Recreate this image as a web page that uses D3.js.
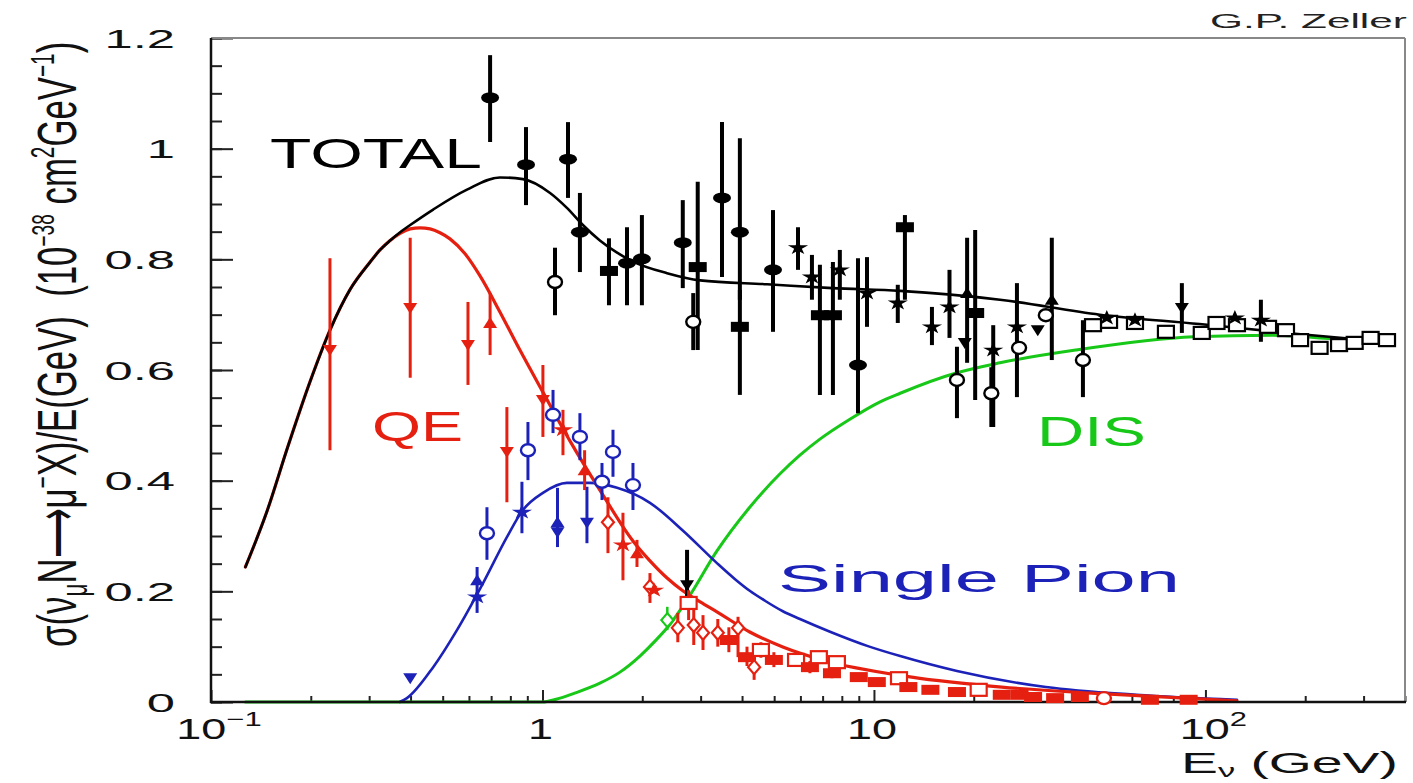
<!DOCTYPE html>
<html>
<head>
<meta charset="utf-8">
<script src="https://cdn.jsdelivr.net/npm/d3@7"></script>
<style>
  html, body { margin: 0; padding: 0; background: #fff; }
  svg { display: block; font-family: "Liberation Sans", Arial, Helvetica, sans-serif; }
</style>
</head>
<body>
<svg id="chart" width="1413" height="783"></svg>
<script>
// ---- model curves: [E (GeV), sigma/E (1e-38 cm^2/GeV)] ----
const totalCurve = [
  [0.127,0.244],[0.148,0.347],[0.170,0.459],[0.199,0.579],[0.2285,0.672],[0.2625,0.745],
  [0.302,0.795],[0.3235,0.817],[0.347,0.834],[0.372,0.849],[0.399,0.862],[0.468,0.890],
  [0.592,0.926],[0.744,0.948],[0.873,0.945],[1.054,0.920],[1.185,0.893],[1.324,0.862],
  [1.49,0.834],[1.679,0.812],[1.875,0.796],[2.376,0.775],[2.99,0.762],[4.76,0.755],
  [7.5,0.748],[12.0,0.743],[24,0.727],[48,0.700],[96,0.683],[190,0.665],[348,0.651]
];
const qeCurve = [
  [0.127,0.244],[0.148,0.347],[0.170,0.459],[0.199,0.579],[0.2285,0.672],[0.2625,0.745],
  [0.302,0.795],[0.3235,0.817],[0.347,0.834],[0.372,0.847],[0.399,0.855],[0.427,0.857],
  [0.458,0.855],[0.4907,0.848],[0.526,0.837],[0.584,0.810],[0.648,0.770],[0.744,0.705],
  [0.855,0.636],[1.003,0.560],[1.21,0.472],[1.49,0.383],[1.875,0.291],[2.11,0.255],
  [2.376,0.224],[2.65,0.201],[2.99,0.181],[3.36,0.163],[4.22,0.1265],[5.31,0.0994],
  [6.98,0.076],[13.0,0.045],[24.3,0.027],[45.2,0.016],[124.5,0.002]
];
const pionCurve = [
  [0.371,0],[0.390,0.007],[0.468,0.063],[0.552,0.130],[0.662,0.215],[0.781,0.298],
  [0.873,0.347],[1.003,0.378],[1.185,0.396],[1.39,0.396],[1.679,0.387],[2.11,0.36],
  [2.65,0.31],[3.36,0.251],[3.81,0.222],[4.22,0.201],[4.69,0.183],[5.31,0.164],
  [5.98,0.150],[7.37,0.127],[9.59,0.101],[12.0,0.083],[17.8,0.056],[33.0,0.027],
  [61.8,0.013],[124.5,0.004]
];
const disCurve = [
  [0.127,0],[1.0,0],[1.1,0.005],[1.25,0.016],[1.49,0.034],[1.713,0.054],[1.968,0.083],
  [2.185,0.110],[2.43,0.141],[2.766,0.190],[3.36,0.273],[4.22,0.352],[5.20,0.412],
  [5.98,0.446],[6.87,0.475],[8.46,0.511],[10.4,0.542],[12.0,0.558],[17.8,0.595],
  [24.0,0.613],[40.6,0.636],[92.3,0.66],[159,0.663],[315,0.651],[348,0.650]
];

// ---- measurements: [E, value, errLow, errHigh, marker] ----
const totalData = [
  [0.695,1.092,1.012,1.169,"fc"],[0.892,0.971,0.898,1.039,"fc"],[1.194,0.981,0.911,1.048,"fc"],
  [1.091,0.759,0.699,0.821,"oc"],[1.297,0.849,0.777,0.920,"fc"],[1.587,0.779,0.717,0.838,"fs"],
  [1.799,0.793,0.717,0.858,"fc"],[1.995,0.801,0.717,0.880,"fc"],[2.65,0.830,0.748,0.907,"fc"],
  [2.94,0.786,0.636,0.940,"fs"],[2.85,0.687,0.636,0.739,"oc"],[2.73,0.211,0.184,0.275,"td"],
  [3.48,0.911,0.768,1.048,"fc"],[3.94,0.849,0.727,1.019,"fc"],[3.94,0.678,0.555,0.745,"fs"],
  [4.96,0.781,0.669,0.889,"fc"],[5.90,0.821,0.781,0.858,"st"],[6.50,0.768,0.727,0.808,"st"],
  [6.87,0.699,0.555,0.790,"fs"],[7.52,0.699,0.555,0.795,"fs"],[7.89,0.781,0.727,0.817,"st"],
  [8.95,0.609,0.522,0.802,"fc"],[9.53,0.739,0.678,0.804,"st"],[11.8,0.721,0.685,0.754,"st"],
  [12.4,0.858,0.727,0.880,"fs"],[14.96,0.678,0.645,0.714,"st"],[16.9,0.714,0.658,0.781,"st"],
  [17.8,0.582,0.513,0.642,"oc"],[19.1,0.739,0.613,0.839,"tu"],[20.2,0.703,0.546,0.853,"fs"],
  [18.8,0.649,0.649,0.649,"td"],[22.9,0.636,0.497,0.681,"st"],[22.6,0.558,0.497,0.605,"oc"],
  [27.0,0.678,0.551,0.757,"st"],[27.4,0.640,0.640,0.640,"oc"],[31.2,0.672,0.672,0.672,"td"],
  [33.0,0.699,0.699,0.699,"oc"],[34.4,0.727,0.618,0.839,"tu"],[42.7,0.618,0.551,0.690,"oc"],
  [45.8,0.681,0.681,0.681,"os"],[51.2,0.687,0.687,0.687,"os"],[61.3,0.685,0.685,0.685,"os"],
  [76.0,0.669,0.669,0.669,"os"],[97.5,0.667,0.667,0.667,"os"],[108,0.685,0.685,0.685,"os"],
  [124.5,0.681,0.681,0.681,"os"],[154.5,0.678,0.678,0.678,"os"],[175,0.672,0.672,0.672,"os"],
  [193,0.654,0.654,0.654,"os"],[221,0.640,0.640,0.640,"os"],[253,0.645,0.645,0.645,"os"],
  [282,0.649,0.649,0.649,"os"],[315,0.658,0.658,0.658,"os"],[353,0.654,0.654,0.654,"os"],
  [50.4,0.694,0.694,0.694,"st"],[61.3,0.690,0.690,0.690,"st"],[84.9,0.712,0.667,0.757,"td"],
  [122.7,0.694,0.694,0.694,"st"],[147,0.690,0.651,0.727,"st"]
];
const qeData = [
  [0.2285,0.636,0.455,0.802,"td"],[0.399,0.712,0.586,0.839,"td"],[0.596,0.645,0.573,0.723,"td"],
  [0.695,0.685,0.627,0.739,"tu"],[0.781,0.452,0.361,0.533,"td"],[1.003,0.546,0.479,0.609,"td"],
  [1.153,0.492,0.446,0.528,"st"],[1.34,0.419,0.383,0.455,"tu"],[1.576,0.325,0.269,0.370,"od"],
  [1.749,0.284,0.220,0.342,"st"],[1.928,0.269,0.244,0.293,"tu"],[2.11,0.208,0.179,0.233,"od"],
  [2.17,0.202,0.202,0.202,"st"],[2.56,0.134,0.108,0.161,"od"],[2.76,0.179,0.148,0.202,"os"],
  [2.86,0.139,0.103,0.175,"od"],[3.05,0.125,0.094,0.157,"od"],[3.38,0.125,0.100,0.150,"od"],
  [3.65,0.112,0.090,0.135,"fs"],[3.89,0.134,0.081,0.154,"od"],[4.14,0.081,0.065,0.100,"fs"],
  [4.35,0.063,0.040,0.076,"od"],[4.56,0.094,0.080,0.108,"os"],[4.99,0.076,0.063,0.090,"fs"],
  [5.82,0.076,0.065,0.087,"os"],[6.41,0.063,0.052,0.074,"fs"],[6.82,0.081,0.072,0.090,"os"],
  [7.47,0.052,0.043,0.061,"fs"],[7.73,0.072,0.072,0.072,"os"],[9.0,0.045,0.038,0.052,"fs"],
  [10.2,0.036,0.030,0.042,"fs"],[11.9,0.043,0.043,0.043,"os"],[12.7,0.027,0.020,0.034,"fs"],
  [14.8,0.022,0.022,0.022,"fs"],[17.8,0.018,0.018,0.018,"fs"],[20.7,0.022,0.022,0.022,"os"],
  [24.3,0.013,0.013,0.013,"fs"],[27.5,0.013,0.013,0.013,"fs"],[30.2,0.009,0.009,0.009,"fs"],
  [35.2,0.007,0.007,0.007,"fs"],[41.8,0.009,0.009,0.009,"fs"],[49.4,0.007,0.007,0.007,"oc"],
  [68,0.004,0.004,0.004,"fs"],[89,0.004,0.004,0.004,"fs"]
];
const pionData = [
  [0.399,0.043,0.043,0.043,"td"],[0.635,0.220,0.161,0.244,"tu"],[0.635,0.190,0.190,0.190,"st"],
  [0.680,0.305,0.257,0.352,"oc"],[0.867,0.343,0.305,0.398,"st"],[0.904,0.455,0.401,0.506,"oc"],
  [1.076,0.519,0.486,0.564,"oc"],[1.11,0.325,0.280,0.387,"tu"],[1.11,0.307,0.307,0.307,"td"],
  [1.297,0.479,0.437,0.522,"oc"],[1.362,0.324,0.287,0.389,"td"],[1.512,0.398,0.365,0.432,"oc"],
  [1.632,0.452,0.407,0.492,"oc"],[1.875,0.392,0.347,0.432,"oc"]
];
const disData = [
  [2.38,0.148,0.130,0.172,"od"]
];

// ---- axis ticks and labels ----
const yMajorTicks = [0, 0.2, 0.4, 0.6, 0.8, 1.0, 1.2];
const yTickLabels = ["0", "0.2", "0.4", "0.6", "0.8", "1", "1.2"];
const yMinorTicks = d3.range(0, 1.2001, 0.05);
const xMajorTicks = [0.1, 1, 10, 100];
const xTickBase = ["10", "1", "10", "10"];
const xTickExp = ["\u22121", "", "", "2"];
const xMinorTicks = [0.2,0.3,0.4,0.5,0.6,0.7,0.8,0.9,2,3,4,5,6,7,8,9,20,30,40,50,60,70,80,90,200,300,400];

const COLORS = { total: "#000000", qe: "#e62010", pion: "#1c22b8", dis: "#18c818" };

const svg = d3.select("#chart");
const x = d3.scaleLog().domain([0.1, 400]).range([211, 1405]);
const y = d3.scaleLinear().domain([0, 1.2]).range([702, 38]);

// ---- frame (top and right edges) ----
const frame = svg.append("g");
frame.append("line").attr("x1", 211).attr("x2", 1405).attr("y1", 38).attr("y2", 38)
  .attr("stroke", "#888").attr("stroke-width", 2);
frame.append("line").attr("x1", 1405).attr("x2", 1405).attr("y1", 38).attr("y2", 702)
  .attr("stroke", "#888").attr("stroke-width", 2);

// ---- ticks (drawn inward) ----
function tickGroup(axis, transform) {
  const g = svg.append("g").attr("transform", transform).call(axis);
  g.select(".domain").remove();
  g.selectAll(".tick line").attr("stroke", "#222").attr("stroke-width", 2);
  g.selectAll(".tick text").remove();
  return g;
}
tickGroup(d3.axisRight(y).tickValues(yMinorTicks).tickSize(11).tickFormat(""), "translate(211,0)");
tickGroup(d3.axisRight(y).tickValues(yMajorTicks).tickSize(22).tickFormat(""), "translate(211,0)");
tickGroup(d3.axisTop(x).tickValues(xMinorTicks).tickSize(6).tickFormat(""), "translate(0,702)");
tickGroup(d3.axisTop(x).tickValues(xMajorTicks).tickSize(12).tickFormat(""), "translate(0,702)");

// ---- curves ----
const line = d3.line().x(d => x(d[0])).y(d => y(d[1])).curve(d3.curveMonotoneX);
const curves = svg.append("g").attr("fill", "none").attr("stroke-linejoin", "round").attr("stroke-linecap", "round");
curves.append("path").datum(disCurve).attr("d", line).attr("stroke", COLORS.dis).attr("stroke-width", 3);
curves.append("path").datum(pionCurve).attr("d", line).attr("stroke", COLORS.pion).attr("stroke-width", 2.6);
curves.append("path").datum(qeCurve).attr("d", line).attr("stroke", COLORS.qe).attr("stroke-width", 3.2);
curves.append("path").datum(totalCurve).attr("d", line).attr("stroke", COLORS.total).attr("stroke-width", 2.6);

// ---- left and bottom axis lines ----
frame.raise();
svg.append("line").attr("x1", 211).attr("x2", 211).attr("y1", 38).attr("y2", 703)
  .attr("stroke", "#111").attr("stroke-width", 2.5);
svg.append("line").attr("x1", 210).attr("x2", 1406).attr("y1", 702).attr("y2", 702)
  .attr("stroke", "#111").attr("stroke-width", 2.5);

// ---- markers ----
function drawMarker(g, kind, color) {
  switch (kind) {
    case "fc":
      g.append("ellipse").attr("rx", 9).attr("ry", 5.5).attr("fill", color); break;
    case "oc":
      g.append("ellipse").attr("rx", 7).attr("ry", 6).attr("fill", "#fff").attr("stroke", color).attr("stroke-width", 2.4); break;
    case "fs":
      g.append("rect").attr("x", -9).attr("y", -5).attr("width", 18).attr("height", 10).attr("fill", color); break;
    case "os":
      g.append("rect").attr("x", -8).attr("y", -6).attr("width", 16).attr("height", 12).attr("fill", "#fff").attr("stroke", color).attr("stroke-width", 2.2); break;
    case "st":
      g.append("path").attr("d", d3.symbol(d3.symbolStar, 70)()).attr("transform", "scale(1.35,1)").attr("fill", color); break;
    case "td":
      g.append("path").attr("d", "M-7,-5L7,-5L0,6Z").attr("fill", color); break;
    case "tu":
      g.append("path").attr("d", "M-7,5L7,5L0,-6Z").attr("fill", color); break;
    case "od":
      g.append("path").attr("d", "M-6,0L0,-7L6,0L0,7Z").attr("fill", "#fff").attr("stroke", color).attr("stroke-width", 2.2); break;
  }
}
function drawSeries(data, color, barWidth) {
  const g = svg.append("g");
  g.selectAll("line.err").data(data.filter(d => d[3] > d[2])).join("line")
    .attr("class", "err")
    .attr("x1", d => x(d[0])).attr("x2", d => x(d[0]))
    .attr("y1", d => y(d[2])).attr("y2", d => y(d[3]))
    .attr("stroke", color).attr("stroke-width", barWidth);
  data.forEach(d => {
    const m = g.append("g").attr("transform", `translate(${x(d[0])},${y(d[1])})`);
    drawMarker(m, d[4], color);
  });
}
drawSeries(totalData, COLORS.total, 4);
drawSeries(pionData, COLORS.pion, 3);
drawSeries(qeData, COLORS.qe, 3);
drawSeries(disData, COLORS.dis, 2.5);

// ---- text helpers ----
function fitH(sel, x0, x1, baseline) {
  const w = sel.node().getComputedTextLength();
  sel.attr("text-anchor", "start").attr("transform", `translate(${x0},${baseline}) scale(${(x1 - x0) / w},1)`);
}

// y tick labels
yMajorTicks.forEach((v, i) => {
  svg.append("text").text(yTickLabels[i])
    .attr("text-anchor", "end").attr("font-size", 26).attr("fill", "#111")
    .attr("transform", `translate(175,${y(v) + 9.5}) scale(1.95,1)`);
});

// x tick labels
xMajorTicks.forEach((v, i) => {
  const t = svg.append("text").attr("font-size", 29).attr("fill", "#111").attr("text-anchor", "middle");
  t.append("tspan").text(xTickBase[i]);
  if (xTickExp[i]) t.append("tspan").attr("font-size", 20).attr("dy", -13).text(xTickExp[i]);
  const shift = xTickExp[i] ? 8 : -2;
  t.attr("transform", `translate(${x(v) + shift},739) scale(1.55,1)`);
});

// axis titles
const xt = svg.append("text").attr("font-size", 29).attr("fill", "#111");
xt.append("tspan").text("E");
xt.append("tspan").attr("font-size", 18).attr("dy", 4).text("\u03bd");
xt.append("tspan").attr("dy", -4).text(" (GeV)");
fitH(xt, 1181, 1398, 773);

const yt = svg.append("text").attr("font-size", 40).attr("fill", "#111");
yt.append("tspan").text("\u03c3(\u03bd");
yt.append("tspan").attr("font-size", 26).attr("dy", 8).text("\u03bc");
yt.append("tspan").attr("dy", -8).text("N\u27f6\u03bc");
yt.append("tspan").attr("font-size", 24).attr("dy", -16).text("\u2212");
yt.append("tspan").attr("dy", 16).text("X)/E(GeV)\u00a0\u00a0(10");
yt.append("tspan").attr("font-size", 22).attr("dy", -16).text("\u221238");
yt.append("tspan").attr("dy", 16).text(" cm");
yt.append("tspan").attr("font-size", 24).attr("dy", -16).text("2");
yt.append("tspan").attr("dy", 16).text("GeV");
yt.append("tspan").attr("font-size", 24).attr("dy", -16).text("\u22121");
yt.append("tspan").attr("dy", 16).text(")");
{
  const w = yt.node().getComputedTextLength();
  yt.attr("transform", `translate(76,647) scale(1.4,1) rotate(-90) scale(${605 / w},1)`);
}

// in-plot labels
const author = svg.append("text").attr("font-size", 21).attr("fill", "#222").text("G.P. Zeller");
fitH(author, 1210, 1407, 28);
const tTotal = svg.append("text").attr("font-size", 42).attr("fill", COLORS.total).text("TOTAL");
fitH(tTotal, 270, 482, 168);
const tQE = svg.append("text").attr("font-size", 42).attr("fill", COLORS.qe).text("QE");
fitH(tQE, 372, 463, 441);
const tDIS = svg.append("text").attr("font-size", 42).attr("fill", COLORS.dis).text("DIS");
fitH(tDIS, 1037, 1146, 446);
const tPion = svg.append("text").attr("font-size", 38).attr("fill", COLORS.pion).text("Single Pion");
fitH(tPion, 778, 1180, 592);
</script>
</body>
</html>
